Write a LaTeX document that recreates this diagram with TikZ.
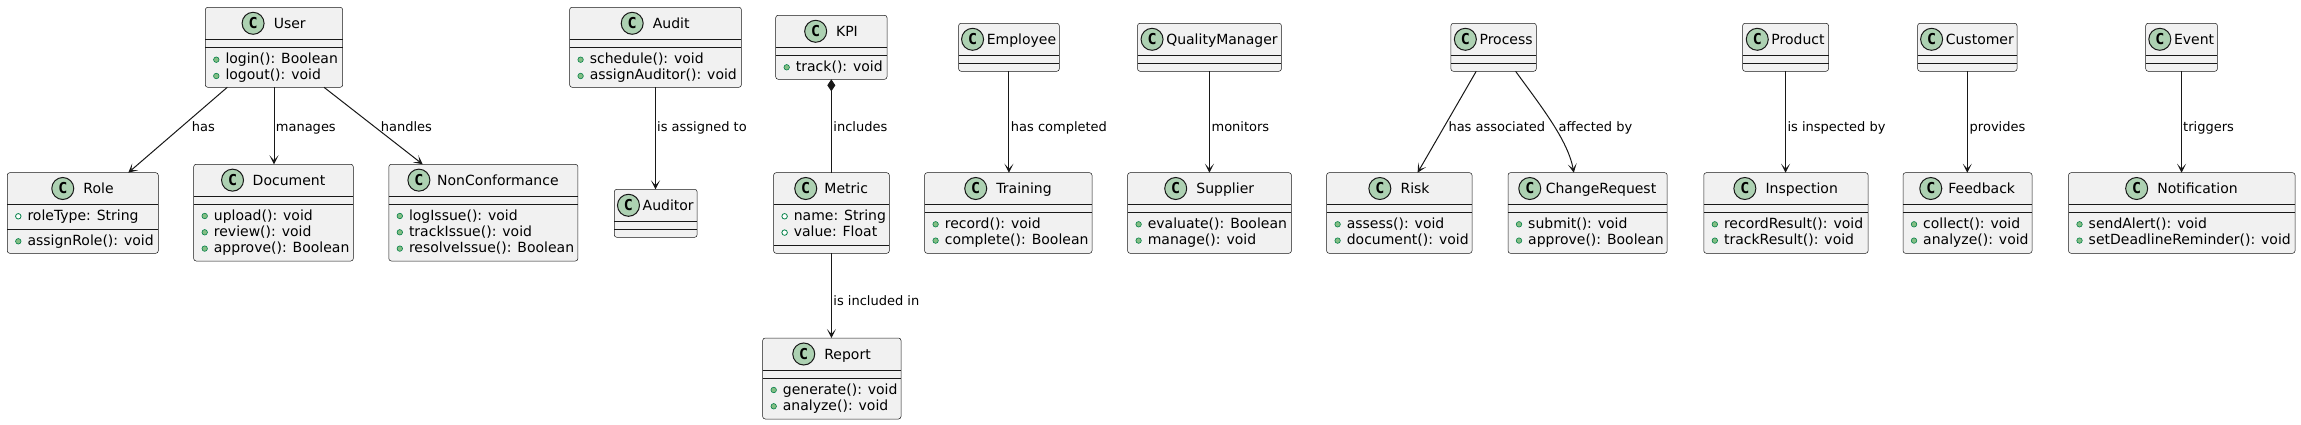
\documentclass[tikz,border=0pt]{standalone}
\usepackage{fontspec}
\setmainfont{DejaVu Sans}
\setmonofont{DejaVu Sans Mono}
\usetikzlibrary{arrows.meta,calc}
\definecolor{cborder}{HTML}{181818}
\definecolor{cfill}{HTML}{F1F1F1}
\definecolor{cbadgefill}{HTML}{ADD1B2}
\definecolor{cmeth}{HTML}{84BE84}
\definecolor{cmethb}{HTML}{038048}
\tikzset{
 clsbox/.style={draw=cborder, line width=0.5pt, fill=cfill, rounded corners=2.5pt, inner sep=0pt, outer sep=0pt},
 divline/.style={draw=cborder, line width=0.5pt},
 clsname/.style={inner sep=0pt, text height=10pt, text depth=3pt, font=\fontsize{14pt}{16pt}\selectfont},
 cbadge/.style={circle, draw=cborder, line width=1pt, fill=cbadgefill, minimum size=22pt, inner sep=0pt, font=\fontsize{15pt}{15pt}\selectfont\ttfamily\bfseries},
 memtext/.style={anchor=base west, inner sep=0pt, font=\fontsize{14pt}{16pt}\selectfont},
 methdot/.style={circle, draw=cmethb, fill=cmeth, line width=0.6pt, minimum size=5.5pt, inner sep=0pt},
 flddot/.style={circle, draw=cmethb, fill=white, line width=0.8pt, minimum size=5.5pt, inner sep=0pt},
 conn/.style={draw=cborder, line width=1pt},
 arr/.style={conn, -{Stealth[length=9pt,width=9pt,inset=5pt]}},
 lbl/.style={anchor=base west, inner sep=0pt, font=\fontsize{13pt}{15pt}\selectfont},
}
% #1 id, #2 name, #3 left, #4 right, #5 top, #6 div1, #7 div2, #8 bottom, #9 gap
\newcommand{\umlcls}[9]{%
  \pgfmathsetmacro\clsX{(#3+#4)/2}%
  \pgfmathsetmacro\clsY{(#5+#8)/2}%
  \pgfmathsetlengthmacro\clsW{#4-#3}%
  \pgfmathsetlengthmacro\clsH{#8-#5}%
  \pgfmathsetmacro\clsHC{(#5+#6)/2}%
  \pgfmathsetmacro\clsNX{\clsX+(22+#9)/2}%
  \node[clsbox, minimum width=\clsW, minimum height=\clsH] (#1) at (\clsX,\clsY) {};
  \draw[divline] (#3,#6) -- (#4,#6);
  \draw[divline] (#3,#7) -- (#4,#7);
  \node[clsname] (#1-n) at (\clsNX,\clsHC+1.5) {#2};
  \node[cbadge] (#1-c) at ([xshift=-#9pt-11pt, yshift=1.5pt]#1-n.west) {C};
}
% #1 left, #2 div, #3 index, #4 dot style, #5 text
\newcommand{\umem}[5]{%
  \pgfmathsetmacro\memB{#2+16+16.3*#3}%
  \node[#4] at (#1+11,\memB-4) {};
  \node[memtext] at (#1+20,\memB) {#5};
}
\begin{document}
\begin{tikzpicture}[x=1pt,y=-1pt]
\fill[white] (0,0) rectangle (2301,425);
\useasboundingbox (0,0) rectangle (2301,425);

\umlcls{user}{User}{205.3}{342.7}{7.3}{39.3}{47.7}{87.3}{9.5}
\umem{205.3}{47.7}{0}{methdot}{login(): Boolean}
\umem{205.3}{47.7}{1}{methdot}{logout(): void}

\umlcls{role}{Role}{7.3}{158.3}{172.7}{204.3}{229.3}{253.3}{9.5}
\umem{7.3}{204.3}{0}{flddot}{roleType: String}
\umem{7.3}{229.3}{0}{methdot}{assignRole(): void}

\umlcls{document}{Document}{193.7}{353.3}{164.3}{196}{204}{261}{9}
\umem{193.7}{204}{0}{methdot}{upload(): void}
\umem{193.7}{204}{1}{methdot}{review(): void}
\umem{193.7}{204}{2}{methdot}{approve(): Boolean}

\umlcls{nonconf}{NonConformance}{388.8}{577.9}{164.3}{196}{204}{261}{7}
\umem{388.8}{204}{0}{methdot}{logIssue(): void}
\umem{388.8}{204}{1}{methdot}{trackIssue(): void}
\umem{388.8}{204}{2}{methdot}{resolveIssue(): Boolean}

\umlcls{audit}{Audit}{569.6}{741.4}{7.3}{39.3}{47.7}{87.3}{9.5}
\umem{569.6}{47.7}{0}{methdot}{schedule(): void}
\umem{569.6}{47.7}{1}{methdot}{assignAuditor(): void}

\umlcls{auditor}{Auditor}{614.3}{697.1}{189.3}{221.3}{229.3}{237.3}{3}

\umlcls{kpi}{KPI}{775.7}{887}{15.3}{47.3}{55.3}{79.3}{9.2}
\umem{775.7}{55.3}{0}{methdot}{track(): void}

\umlcls{metric}{Metric}{773.6}{889.3}{172.7}{204.3}{245.3}{253.3}{7.5}
\umem{773.6}{204.3}{0}{flddot}{name: String}
\umem{773.6}{204.3}{1}{flddot}{value: Float}

\umlcls{report}{Report}{762.7}{901}{338}{370}{378}{419}{9.4}
\umem{762.7}{378}{0}{methdot}{generate(): void}
\umem{762.7}{378}{1}{methdot}{analyze(): void}

\umlcls{employee}{Employee}{958.6}{1059.3}{23.3}{55.3}{63.3}{71.3}{3}

\umlcls{training}{Training}{924.6}{1092}{172.7}{204.3}{212.3}{253.3}{9.5}
\umem{924.6}{212.3}{0}{methdot}{record(): void}
\umem{924.6}{212.3}{1}{methdot}{complete(): Boolean}

\umlcls{qm}{QualityManager}{1137.5}{1281.4}{23.3}{55.3}{63.3}{71.3}{3}

\umlcls{supplier}{Supplier}{1127.6}{1291.4}{172.7}{204.3}{212.3}{253.3}{9.5}
\umem{1127.6}{212.3}{0}{methdot}{evaluate(): Boolean}
\umem{1127.6}{212.3}{1}{methdot}{manage(): void}

\umlcls{process}{Process}{1450.9}{1536.3}{23.3}{55.3}{63.3}{71.3}{3}

\umlcls{risk}{Risk}{1326.6}{1472}{172.7}{204.3}{212.3}{253.3}{9.5}
\umem{1326.6}{212.3}{0}{methdot}{assess(): void}
\umem{1326.6}{212.3}{1}{methdot}{document(): void}

\umlcls{cr}{ChangeRequest}{1508}{1667.2}{172.7}{204.3}{212.3}{253.3}{4.8}
\umem{1508}{212.3}{0}{methdot}{submit(): void}
\umem{1508}{212.3}{1}{methdot}{approve(): Boolean}

\umlcls{product}{Product}{1742.6}{1828.5}{23.3}{55.3}{63.3}{71.3}{3}

\umlcls{inspection}{Inspection}{1703.8}{1868.1}{172.7}{204.3}{212.3}{253.3}{9.5}
\umem{1703.8}{212.3}{0}{methdot}{recordResult(): void}
\umem{1703.8}{212.3}{1}{methdot}{trackResult(): void}

\umlcls{customer}{Customer}{1917.6}{2017}{23.3}{55.3}{63.3}{71.3}{3}

\umlcls{feedback}{Feedback}{1903}{2032}{172.7}{204.3}{212.3}{253.3}{6.4}
\umem{1903}{212.3}{0}{methdot}{collect(): void}
\umem{1903}{212.3}{1}{methdot}{analyze(): void}

\umlcls{event}{Event}{2145.7}{2217.4}{23.3}{55.3}{63.3}{71.3}{3}

\umlcls{notification}{Notification}{2068.5}{2295}{172.7}{204.3}{212.3}{253.3}{9.5}
\umem{2068.5}{212.3}{0}{methdot}{sendAlert(): void}
\umem{2068.5}{212.3}{1}{methdot}{setDeadlineReminder(): void}

% connectors
\draw[arr] ([xshift=-46.7pt]user.south) -- ([xshift=45.5pt]role.north);
\draw[arr] (user.south) -- (user.south |- document.north);
\draw[arr] ([xshift=50pt]user.south) -- ([xshift=-60.65pt]nonconf.north);
\draw[arr] (audit.south) -- (audit.south |- auditor.north);
\draw[conn, {Diamond[length=12pt,width=8pt]}-] (kpi.south) -- (kpi.south |- metric.north);
\draw[arr] (metric.south) -- (metric.south |- report.north);
\draw[arr] (employee.south) -- (employee.south |- training.north);
\draw[arr] (qm.south) -- (qm.south |- supplier.north);
\draw[arr] ([xshift=-17.4pt]process.south) -- ([xshift=18.3pt]risk.north);
\draw[arr] ([xshift=22pt]process.south) .. controls +(24.4,33.7) and +(-5.8,-32.7) .. ([xshift=-13.8pt]cr.north);
\draw[arr] (product.south) -- (product.south |- inspection.north);
\draw[arr] (customer.south) -- (customer.south |- feedback.north);
\draw[arr] (event.south) -- (event.south |- notification.north);

% labels
\node[lbl] (l-has) at (191.7,131.5) {has};
\node[lbl] (l-man) at (275.7,131.5) {manages};
\node[lbl] (l-han) at (380.7,131.5) {handles};
\node[lbl] (l-asg) at (657,131.5) {is assigned to};
\node[lbl] (l-inc) at (833.2,131.5) {includes};
\node[lbl] (l-incin) at (833.2,305) {is included in};
\node[lbl] (l-hc) at (1010.7,131.5) {has completed};
\node[lbl] (l-mon) at (1211.4,131.5) {monitors};
\node[lbl] (l-ha) at (1448.3,131.5) {has associated};
\node[lbl] (l-aff) at (1558.5,131.5) {affected by};
\node[lbl] (l-ins) at (1787.3,131.5) {is inspected by};
\node[lbl] (l-pro) at (1969.5,131.5) {provides};
\node[lbl] (l-tri) at (2183,131.5) {triggers};
\end{tikzpicture}
\end{document}
